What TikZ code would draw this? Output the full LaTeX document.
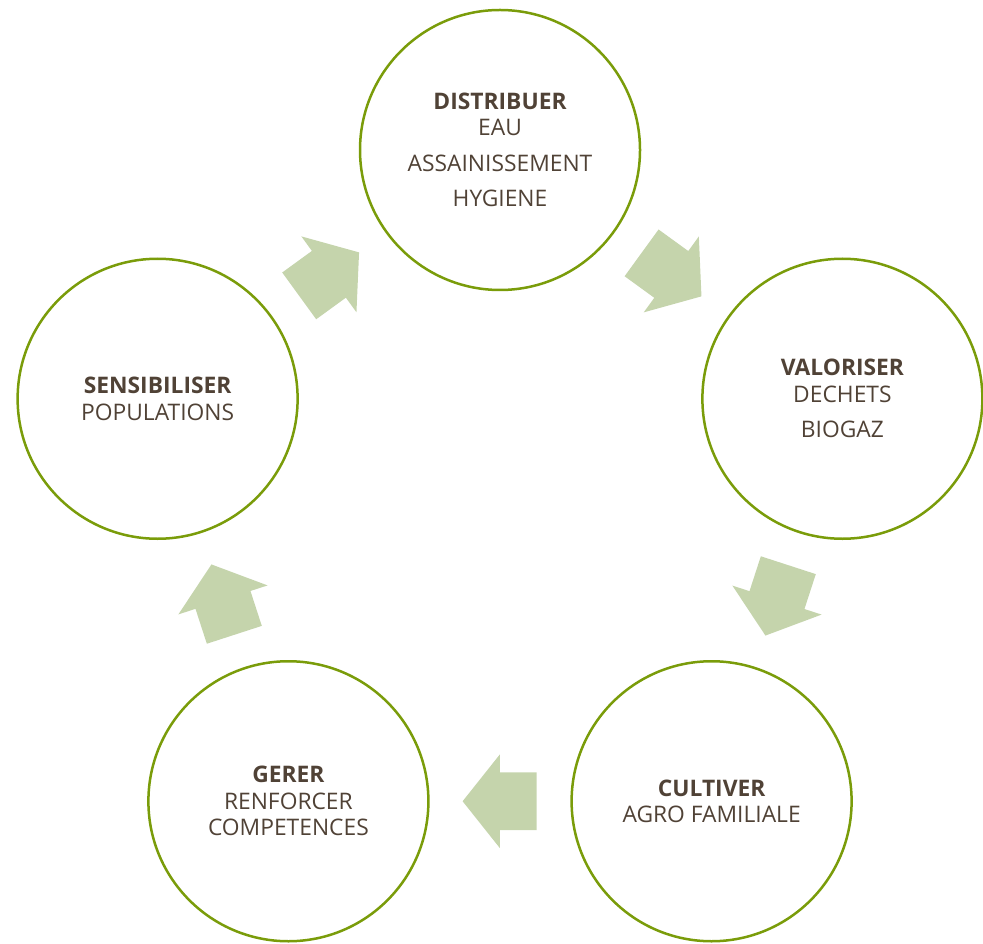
\documentclass[tikz,border=0pt]{standalone}
\usepackage{fontspec}
\setmainfont{Open Sans}
\usetikzlibrary{shapes.arrows,calc}
\definecolor{ringgreen}{RGB}{122,156,10}
\definecolor{flowgreen}{RGB}{197,212,172}
\definecolor{textbrown}{RGB}{80,66,54}
\tikzset{stage/.style={circle, draw=ringgreen, line width=1.25pt, minimum size=140pt, inner sep=0pt, align=center, text=textbrown, font=\fontsize{11.4}{13.25}\selectfont}}
\tikzset{flow/.style={single arrow, fill=flowgreen, draw=none, inner xsep=0pt, inner ysep=14.25pt, minimum height=37pt, single arrow head extend=9pt, single arrow tip angle=103, anchor=tail}}

\begin{document}
\begin{tikzpicture}[x=0.5pt, y=0.5pt]
        \useasboundingbox (0,0) rectangle (983,943);
        \coordinate (O) at (500,433);

        \node[stage] (distribuer) at ($(O)+(90:360)$) {\textbf{DISTRIBUER}\\EAU\\[4.5pt]ASSAINISSEMENT\\[4.5pt]HYGIENE};
        \node[stage] (valoriser) at ($(O)+(18:360)$) {\textbf{VALORISER}\\DECHETS\\[4.5pt]BIOGAZ};
        \node[stage] (cultiver) at ($(O)+(-54:360)$) {\textbf{CULTIVER}\\AGRO FAMILIALE};
        \node[stage] (gerer) at ($(O)+(-126:360)$) {\textbf{GERER}\\RENFORCER\\COMPETENCES};
        \node[stage] (sensibiliser) at ($(O)+(162:360)$) {\textbf{SENSIBILISER}\\POPULATIONS};

        % block arrows, tail set back half a length from the midpoint
        \node[flow, rotate=-36] (f1) at ($(distribuer)!0.5!(valoriser)+(144:37)$) {};
        \node[flow, rotate=-108] (f2) at ($(valoriser)!0.5!(cultiver)+(72:37)$) {};
        \node[flow, rotate=180] (f3) at ($(cultiver)!0.5!(gerer)+(0:37)$) {};
        \node[flow, rotate=108] (f4) at ($(gerer)!0.5!(sensibiliser)+(-72:37)$) {};
        \node[flow, rotate=36] (f5) at ($(sensibiliser)!0.5!(distribuer)+(-144:37)$) {};
\end{tikzpicture}
\end{document}
